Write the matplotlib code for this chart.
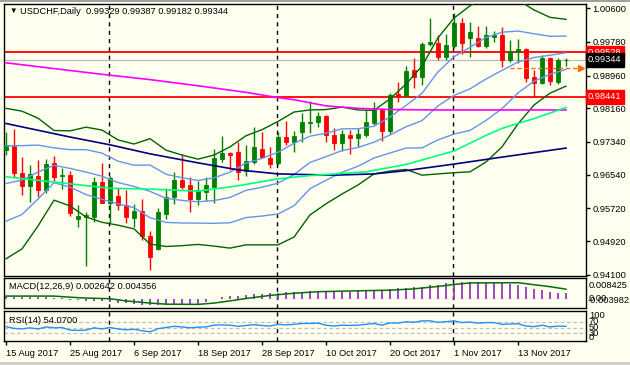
import matplotlib
matplotlib.use('Agg')
import matplotlib.pyplot as plt
import matplotlib.transforms as mtrans
from matplotlib.patches import Rectangle
import numpy as np

plt.rcParams['font.family'] = ['Liberation Sans', 'DejaVu Sans']
plt.rcParams['font.size'] = 6.7

# USDCHF daily candles, 15 Aug 2017 .. 21 Nov 2017
opens = [0.9714, 0.9724, 0.9658, 0.9627, 0.9651, 0.9617, 0.9683, 0.9650, 0.9653, 0.9547,
         0.9552, 0.9552, 0.9636, 0.9586, 0.9602, 0.9580, 0.9549, 0.9566, 0.9505, 0.9473,
         0.9558, 0.9600, 0.9641, 0.9629, 0.9594, 0.9613, 0.9625, 0.9692, 0.9706, 0.9710,
         0.9663, 0.9684, 0.9717, 0.9696, 0.9683, 0.9745, 0.9735, 0.9759, 0.9781, 0.9782,
         0.9797, 0.9751, 0.9731, 0.9751, 0.9744, 0.9751, 0.9781, 0.9814, 0.9761, 0.9850,
         0.9847, 0.9909, 0.9893, 0.9972, 0.9976, 0.9942, 0.9969, 1.0025, 0.9988, 0.9988,
         0.9968, 0.9989, 0.9995, 0.9934, 0.9954, 0.9960, 0.9893, 0.9877, 0.9939, 0.9879,
         0.99329]
highs = [0.9758, 0.9766, 0.9697, 0.9678, 0.9690, 0.9692, 0.9700, 0.9670, 0.9663, 0.9580,
         0.9564, 0.9649, 0.9683, 0.9651, 0.9622, 0.9617, 0.9583, 0.9595, 0.9517, 0.9573,
         0.9622, 0.9661, 0.9705, 0.9648, 0.9639, 0.9648, 0.9716, 0.9749, 0.9710, 0.9735,
         0.9727, 0.9771, 0.9759, 0.9722, 0.9759, 0.9785, 0.9761, 0.9804, 0.9835, 0.9808,
         0.9800, 0.9767, 0.9763, 0.9763, 0.9767, 0.9812, 0.9832, 0.9816, 0.9853, 0.9879,
         0.9919, 0.9938, 0.9978, 1.0036, 0.9995, 0.9997, 1.0048, 1.0036, 1.0027, 1.0018,
         1.0018, 1.0005, 1.0015, 0.9983, 0.9985, 0.9962, 0.9909, 0.9946, 0.9942, 0.9938,
         0.99387]
lows = [0.9702, 0.9649, 0.9605, 0.9588, 0.9600, 0.9609, 0.9639, 0.9619, 0.9553, 0.9527,
        0.9431, 0.9539, 0.9584, 0.9537, 0.9568, 0.9536, 0.9527, 0.9495, 0.9422, 0.9470,
        0.9546, 0.9583, 0.9618, 0.9564, 0.9580, 0.9591, 0.9586, 0.9686, 0.9666, 0.9641,
        0.9651, 0.9680, 0.9694, 0.9670, 0.9678, 0.9727, 0.9710, 0.9735, 0.9757, 0.9771,
        0.9735, 0.9714, 0.9712, 0.9704, 0.9722, 0.9747, 0.9775, 0.9736, 0.9753, 0.9831,
        0.9844, 0.9866, 0.9873, 0.9969, 0.9934, 0.9934, 0.9964, 0.9948, 0.9942, 0.9966,
        0.9964, 0.9978, 0.9918, 0.9928, 0.9926, 0.9879, 0.9844, 0.9875, 0.9873, 0.9875,
        0.99182]
closes = [0.9727, 0.9658, 0.9627, 0.9656, 0.9617, 0.9680, 0.9649, 0.9653, 0.9561, 0.9553,
          0.9556, 0.9637, 0.9586, 0.9645, 0.9579, 0.9552, 0.9566, 0.9505, 0.9453, 0.9563,
          0.9600, 0.9641, 0.9625, 0.9595, 0.9617, 0.9628, 0.9694, 0.9706, 0.9702, 0.9661,
          0.9688, 0.9721, 0.9698, 0.9680, 0.9745, 0.9733, 0.9749, 0.9783, 0.9783, 0.9797,
          0.9751, 0.9731, 0.9753, 0.9743, 0.9753, 0.9782, 0.9814, 0.9761, 0.9849, 0.9846,
          0.9907, 0.9893, 0.9972, 0.9977, 0.9942, 0.9970, 1.0025, 0.9975, 1.0003, 0.9968,
          0.9995, 0.9995, 0.9934, 0.9957, 0.9960, 0.9891, 0.9877, 0.9939, 0.9883, 0.9934,
          0.99344]

# Bollinger bands (20, 2) outer lines, read every second bar
bb_idx = list(range(0, 71, 2))
bb_upper = [0.9816, 0.9809, 0.9792, 0.9762, 0.9761, 0.9770, 0.9763, 0.9739, 0.9729, 0.9742,
            0.9714, 0.9702, 0.9692, 0.9702, 0.9722, 0.9749, 0.9764, 0.9784, 0.9807, 0.9812,
            0.9813, 0.9819, 0.9812, 0.9811, 0.9839, 0.9875, 0.9919, 0.9988, 1.0036, 1.0066,
            1.0090, 1.0095, 1.0080, 1.0056, 1.0038, 1.0033]
bb_lower = [0.9449, 0.9473, 0.9529, 0.9592, 0.9578, 0.9551, 0.9538, 0.9531, 0.9522, 0.9485,
            0.9479, 0.9481, 0.9484, 0.9480, 0.9475, 0.9483, 0.9483, 0.9483, 0.9502, 0.9556,
            0.9583, 0.9607, 0.9629, 0.9656, 0.9663, 0.9667, 0.9653, 0.9656, 0.9659, 0.9661,
            0.9685, 0.9722, 0.9778, 0.9824, 0.9853, 0.9870]

# moving averages
ma200_idx = [0, 6, 12, 18, 24, 30, 34, 36, 40, 44, 48, 54, 62, 70]
ma200_val = [0.9927, 0.9913, 0.9899, 0.9886, 0.9871, 0.9855, 0.9842, 0.9837, 0.9822, 0.9816,
             0.9813, 0.9812, 0.9812, 0.9812]
ma100_idx = [0, 8, 13, 18, 24, 29, 34, 41, 46, 50, 56, 62, 70]
ma100_val = [0.9779, 0.9746, 0.9727, 0.9705, 0.9683, 0.9666, 0.9656, 0.9653, 0.9656, 0.9664,
             0.9680, 0.9697, 0.9719]
ma50_idx = [0, 7, 13, 18, 24, 29, 34, 38, 45, 50, 56, 60, 62, 64, 66, 70]
ma50_val = [0.9649, 0.9634, 0.9621, 0.9619, 0.9614, 0.9627, 0.9644, 0.9652, 0.9661, 0.9679,
            0.9712, 0.9750, 0.9767, 0.9779, 0.9791, 0.9818]

resistance = 0.99528
support = 0.98441
bid = 0.99344
order_level = 0.99151

price_ticks = [1.00600, 0.99780, 0.98960, 0.98160, 0.97340, 0.96540, 0.95720, 0.94920, 0.94100]

macd_main = [0.0011, 0.0010, 0.0009, 0.0008, 0.0007, 0.0006, 0.0005, 0.0004,
             -0.0004, -0.0007, -0.0009, -0.0010, -0.0012, -0.0014, -0.0018, -0.0021, -0.0024,
             -0.0027, -0.0031, -0.0030, -0.0029, -0.0029, -0.0028, -0.0027, -0.0025, -0.0015,
             -0.0003,
             0.0009, 0.0012, 0.0014, 0.0017, 0.0020, 0.0021, 0.0024, 0.0024, 0.0029, 0.0030,
             0.0032, 0.0033,
             0.0032, 0.0032, 0.0032, 0.0032, 0.0032, 0.0035, 0.0035, 0.0035, 0.0035,
             0.0043, 0.0047, 0.0047, 0.0055, 0.0055, 0.0063, 0.0063, 0.0070, 0.0070, 0.0075,
             0.0075,
             0.0075, 0.0075, 0.0075, 0.0074, 0.0068, 0.0063, 0.0053, 0.0046, 0.0039, 0.0032,
             0.0028, 0.002642]
sig_idx = [0, 6, 8, 10, 13, 15, 18, 20, 24, 26, 28, 30, 33, 36, 39, 44, 48, 51, 54, 56, 58,
           64, 66, 68, 70]
sig_val = [0.0012, 0.0012, 0.0007, 0.0003, 0.0000, -0.0010, -0.0020, -0.0025, -0.0026, -0.0020,
           -0.0010, 0.0001, 0.0015, 0.0025, 0.0032, 0.0036, 0.0039, 0.0045, 0.0056, 0.0065,
           0.0072, 0.0073, 0.0064, 0.0055, 0.004356]

rsi = [53, 47, 45, 49, 45, 52, 49, 50, 41, 40, 41, 49, 45, 50, 45, 42, 44, 39, 35, 46,
       50, 54, 52, 49, 51, 52, 58, 59, 58, 54, 57, 60, 57, 55, 61, 59, 61, 64, 64, 65,
       58, 55, 58, 57, 58, 61, 64, 58, 66, 65, 70, 68, 73, 73, 68, 70, 73, 67, 69, 65,
       67, 67, 61, 62, 63, 55, 53, 58, 52, 55, 54.07]

date_idx = [0, 8, 16, 24, 32, 40, 48, 56, 64]
date_labels = ['15 Aug 2017', '25 Aug 2017', '6 Sep 2017', '18 Sep 2017', '28 Sep 2017',
               '10 Oct 2017', '20 Oct 2017', '1 Nov 2017', '13 Nov 2017']
month_sep = [12.9, 33.9, 55.9]

W, H = 630, 365
BG = '#fffff0'


def fx(px):
    return px / W


def fy(py):
    return 1 - py / H


fig = plt.figure(figsize=(6.3, 3.65), dpi=100, facecolor=BG)

left, right = 4.3, 585.5
ax = fig.add_axes([fx(left), fy(276), fx(right) - fx(left), fy(3.5) - fy(276)])
ax_m = fig.add_axes([fx(left), fy(307.7), fx(right) - fx(left), fy(278.3) - fy(307.7)])
ax_r = fig.add_axes([fx(left), fy(340.7), fx(right) - fx(left), fy(310.7) - fy(340.7)])

xlim = (-0.2125, 72.44)
for a in (ax, ax_m, ax_r):
    a.set_facecolor(BG)
    a.set_xlim(*xlim)
    for s in a.spines.values():
        s.set_color('black')
        s.set_linewidth(1)
    for xs in month_sep:
        a.axvline(xs, color='black', lw=1, ls=(0, (3, 3)), zorder=1)

# ---- price panel
x = np.arange(len(closes))
o = np.array(opens)
c = np.array(closes)
up = c >= o
cols = np.where(up, '#008000', '#ff0000')
ax.axhline(resistance, color='#ff0000', lw=1.3, zorder=2)
ax.axhline(support, color='#ff0000', lw=1.3, zorder=2)
ax.axhline(bid, color='#c0c0c0', lw=1, zorder=2)

ax.vlines(x, lows, highs, colors=cols, lw=1, zorder=3)
body_lo = np.minimum(o, c)
body_h = np.maximum(np.abs(c - o), 0.00005)
ax.bar(x, body_h, bottom=body_lo, width=0.6, color=cols, edgecolor=cols, linewidth=0.6,
       zorder=4)

bu = np.array(bb_upper)
bl = np.array(bb_lower)
mid = (bu + bl) / 2
ax.plot(bb_idx, bu, color='#006400', lw=1, zorder=5)
ax.plot(bb_idx, bl, color='#006400', lw=1, zorder=5)
ax.plot(bb_idx, mid, color='#6495ed', lw=1, zorder=5)
ax.plot(bb_idx, mid + (bu - mid) / 2, color='#6495ed', lw=1, zorder=5)
ax.plot(bb_idx, mid - (mid - bl) / 2, color='#6495ed', lw=1, zorder=5)
ax.plot(ma200_idx, ma200_val, color='#ff00ff', lw=1.2, zorder=5)
ax.plot(ma100_idx, ma100_val, color='#000080', lw=1.2, zorder=5)
ax.plot(ma50_idx, ma50_val, color='#00ff7f', lw=1.2, zorder=5)

ax.plot([63, 71.6], [order_level, order_level], color='#ff6a00', lw=1, ls=(0, (3, 2)),
        zorder=6)
ax.plot([71.9], [order_level], marker='>', ms=5, color='#ff6a00', zorder=6, clip_on=False)

ax.set_ylim(0.94070, 1.00717)
ax.yaxis.tick_right()
ax.set_yticks(price_ticks)
ax.set_yticklabels(['%.5f' % t for t in price_ticks])
ax.tick_params(axis='y', direction='out', length=3, width=1, pad=2, labelsize=6.7)
ax.set_xticks([])

trans = mtrans.blended_transform_factory(ax.transAxes, ax.transData)
for val, bg in ((resistance, '#ff0000'), (bid, '#000000'), (support, '#ff0000')):
    ax.text(1.004, val, '%.5f' % val, transform=trans, color='white', va='center', ha='left',
            fontsize=6.7, bbox=dict(facecolor=bg, edgecolor=bg, pad=1.6), clip_on=False)

fig.text(fx(9), fy(11), '\u25bc', fontsize=5.5, va='center', ha='left', color='black')
fig.text(fx(20.5), fy(11.5), 'USDCHF,Daily  0.99329 0.99387 0.99182 0.99344',
         va='center', ha='left', color='black')

# ---- MACD panel
ax_m.vlines(x, 0, macd_main, colors='#9932cc', lw=1.3, zorder=3)
ax_m.plot(sig_idx, sig_val, color='#007000', lw=1.1, zorder=4)
ax_m.set_ylim(-0.00411, 0.00932)
ax_m.set_xticks([])
ax_m.set_yticks([])
fig.text(fx(9), fy(286.7), 'MACD(12,26,9) 0.002642 0.004356', va='center', ha='left')
fig.text(fx(589), fy(285), '0.008425', va='center', ha='left')
fig.text(fx(589), fy(298.5), '0.00', va='center', ha='left')
fig.text(fx(588), fy(300.8), '-0.003982', va='center', ha='left')

# ---- RSI panel
for lvl in (70, 50, 30):
    ax_r.axhline(lvl, color='#c0c0c0', lw=0.9, ls=(0, (3, 2)), zorder=2)
ax_r.plot(x, rsi, color='#1e90ff', lw=1, zorder=3)
ax_r.set_ylim(4.5, 108)
ax_r.set_yticks([])
ax_r.set_xticks(date_idx)
ax_r.set_xticklabels(date_labels)
ax_r.tick_params(axis='x', direction='out', length=3, width=1, pad=3, labelsize=6.7)
for lab in ax_r.get_xticklabels():
    lab.set_ha('left')
fig.text(fx(9), fy(320.7), 'RSI(14) 54.0700', va='center', ha='left')
for txt, py in (('100', 316), ('70', 321.5), ('50', 327.3), ('30', 333), ('0', 338)):
    fig.text(fx(589), fy(py), txt, va='center', ha='left')

# window frame strips
fig.patches.append(Rectangle((0, fy(1.8)), 1, 1 - fy(1.8), transform=fig.transFigure,
                             facecolor='#a0a0a0', edgecolor='none', zorder=-1))
fig.patches.append(Rectangle((0, 0), 1, fy(361.5), transform=fig.transFigure,
                             facecolor='#d4d0c8', edgecolor='none', zorder=-1))

fig.savefig('out.png', dpi=100, facecolor=BG)
